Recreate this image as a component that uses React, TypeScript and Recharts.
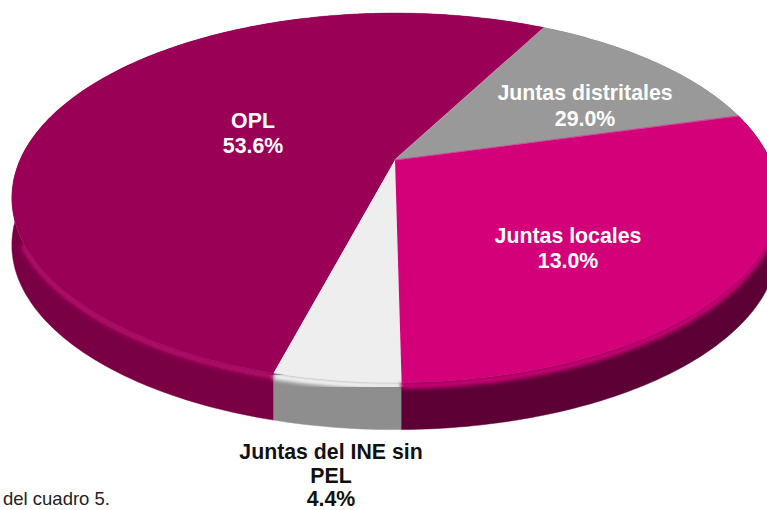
import { PieChart, Pie } from "recharts";

// slice order runs counter-clockwise from the OPL / grey boundary
const categories = ["OPL", "Juntas del INE sin PEL", "Juntas locales", "Juntas distritales"];
const sliceValues = [53.6, 4.4, 29.0, 13.0];
// the printed percentages do not follow the slice sizes in the picture
const printedLabels = ["53.6%", "4.4%", "13.0%", "29.0%"];
const labelLines = [["OPL"], ["Juntas del INE sin", "PEL"], ["Juntas locales"], ["Juntas distritales"]];

const faceColors = ["#9b0057", "#eeeeee", "#d3007a", "#999999"];
const sideColors = ["#7a0044", "#8e8e8e", "#5c0035", "#777777"];
const rimColors = ["#b5086a", "#ffffff", "#d3007a", "#999999"];
const textColors = ["#ffffff", "#111111", "#ffffff", "#ffffff"];
const edgeColors = ["#d39ab9", "none", "none", "#c84a90"];

const pieData = categories.map((name, i) => ({
  name,
  value: sliceValues[i],
  fill: faceColors[i],
  side: sideColors[i],
  rim: rimColors[i],
  edge: edgeColors[i],
}));

const labelPos = [
  { x: 253, y: 128, lh: 25 },
  { x: 331, y: 459, lh: 23.5 },
  { x: 568, y: 243, lh: 25 },
  { x: 585, y: 100, lh: 26 },
];

// tilt of the pie: squash and perspective of the circle Recharts lays out
const SQUASH = 0.472;
const PERSPECTIVE = 0.205;
const DEPTH = 47;

function rimPoint(cx: number, cy: number, r: number, deg: number, drop = 0) {
  const a = (deg * Math.PI) / 180;
  const u = Math.cos(a);
  const v = Math.sin(a);
  const w = 1 + PERSPECTIVE * v;
  return [cx + (r * u) / w, cy - (r * SQUASH * v) / w + drop];
}

function rimPath(p: any, drop = 0, from = p.startAngle, to = p.endAngle) {
  const pts = [];
  const n = Math.max(2, Math.ceil(Math.abs(to - from)));
  for (let i = 0; i <= n; i++) {
    pts.push(rimPoint(p.cx, p.cy, p.outerRadius, from + ((to - from) * i) / n, drop));
  }
  return pts;
}

const toD = (pts: number[][]) => pts.map((q, i) => `${i ? "L" : "M"}${q[0].toFixed(1)} ${q[1].toFixed(1)}`).join("");

function SideShape(p: any) {
  const top = rimPath(p);
  const bottom = rimPath(p, DEPTH).reverse();
  return <path d={toD(top.concat(bottom)) + "Z"} fill={p.side} stroke={p.side} strokeWidth={0.5} />;
}

function FaceShape(p: any) {
  const rim = rimPath(p);
  const lo = Math.max(p.startAngle, 205);
  const hi = Math.min(p.endAngle, 350);
  const start = rim[0];
  return (
    <g>
      {hi > lo && (
        <path d={toD(rimPath(p, 3, lo, hi))} fill="none" stroke={p.rim} strokeWidth={6} filter="url(#rimBlur)" />
      )}
      <path d={`M${p.cx} ${p.cy}` + toD(rim).replace("M", "L") + "Z"} fill={p.fill} stroke="none" />
      {p.edge !== "none" && <line x1={p.cx} y1={p.cy} x2={start[0]} y2={start[1]} stroke={p.edge} strokeWidth={1.2} />}
    </g>
  );
}

function SliceLabel(p: any) {
  const pos = labelPos[p.index];
  const lines = labelLines[p.index].concat(printedLabels[p.index]);
  return (
    <text x={pos.x} y={pos.y} textAnchor="middle" fill={textColors[p.index]} fontFamily="'Liberation Sans', Arial, sans-serif" fontWeight="bold" fontSize={21.3}>
      {lines.map((line, i) => (
        <tspan key={line} x={pos.x} dy={i === 0 ? 0 : pos.lh}>
          {line}
        </tspan>
      ))}
    </text>
  );
}

export default function App() {
  return (
    <div style={{ position: "absolute", left: 0, top: 0, width: 767, height: 510, overflow: "hidden", background: "#fff" }}>
      <PieChart width={767} height={510} margin={{ top: 0, right: 0, bottom: 0, left: 0 }}>
        <defs>
          <filter id="rimBlur" x="-10%" y="-10%" width="120%" height="120%">
            <feGaussianBlur stdDeviation="2" />
          </filter>
        </defs>
        <Pie
          data={pieData}
          dataKey="value"
          cx={395}
          cy={160}
          outerRadius={375}
          startAngle={62}
          endAngle={422}
          stroke="none"
          shape={SideShape}
          isAnimationActive={false}
        />
        <Pie
          data={pieData}
          dataKey="value"
          cx={395}
          cy={160}
          outerRadius={375}
          startAngle={62}
          endAngle={422}
          stroke="none"
          shape={FaceShape}
          label={SliceLabel}
          labelLine={false}
          isAnimationActive={false}
        />
      </PieChart>
      <div style={{ position: "absolute", left: 3, top: 488, fontFamily: "'Liberation Sans', Arial, sans-serif", fontSize: 18.5, lineHeight: "21px", color: "#222" }}>
        del cuadro 5.
      </div>
    </div>
  );
}
